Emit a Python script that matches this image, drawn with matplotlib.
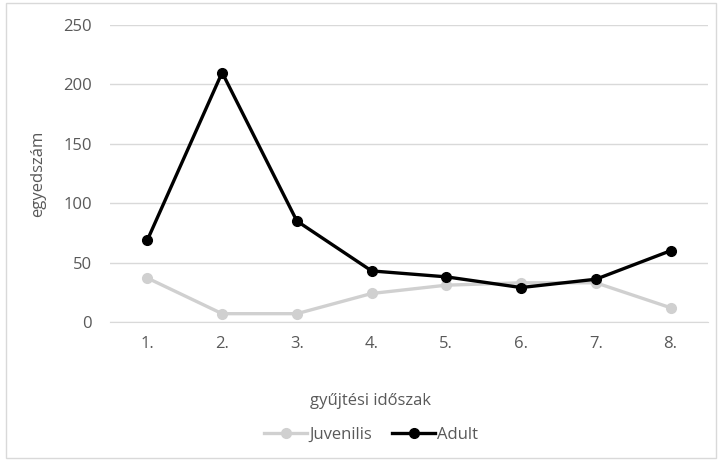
import matplotlib.pyplot as plt
from matplotlib.patches import Rectangle

# adatok
categories = ['1.', '2.', '3.', '4.', '5.', '6.', '7.', '8.']
juvenilis = [37, 7, 7, 24, 31, 33, 33, 12]
adult = [69, 210, 85, 43, 38, 29, 36, 60]
yticks = [0, 50, 100, 150, 200, 250]

plt.rcParams['font.family'] = ['Open Sans', 'DejaVu Sans']
txt = '#595959'
fs = 12

fig = plt.figure(figsize=(7.19, 4.62), dpi=100)
ax = fig.add_axes([110 / 719, 1 - 322 / 462, 598 / 719, 297 / 462])

x = [i + 0.5 for i in range(len(categories))]
ax.plot(x, juvenilis, color='#D0D0D0', lw=2.4, marker='o', ms=7, label='Juvenilis')
ax.plot(x, adult, color='black', lw=2.4, marker='o', ms=7, label='Adult')

ax.set_xlim(0, len(categories))
ax.set_ylim(0, 250)
ax.set_yticks(yticks)
ax.set_xticks(x)
ax.set_xticklabels(categories)
ax.grid(axis='y', color='#D9D9D9', lw=1)
ax.set_axisbelow(True)
for s in ['top', 'right', 'left']:
    ax.spines[s].set_visible(False)
ax.spines['bottom'].set_color('#D9D9D9')
ax.tick_params(length=0, labelsize=fs, colors=txt, pad=10)
ax.tick_params(axis='y', pad=13)

ax.set_ylabel('egyedszám', fontsize=fs, color=txt, labelpad=12)
fig.text(370 / 719, 1 - 401 / 462, 'gyűjtési időszak', ha='center', va='center',
         fontsize=fs, color=txt)

leg = fig.legend(loc='center', bbox_to_anchor=(371 / 719, 1 - 435 / 462), ncol=2,
                 frameon=False, fontsize=fs, handlelength=2.6, columnspacing=1.2,
                 handletextpad=0.1)
for t in leg.get_texts():
    t.set_color(txt)

# keret
fig.patches.append(Rectangle((6 / 719, 4 / 462), 710 / 719, 455 / 462, transform=fig.transFigure,
                             fill=False, edgecolor='#D9D9D9', lw=1))

fig.savefig('out.png', dpi=100)
